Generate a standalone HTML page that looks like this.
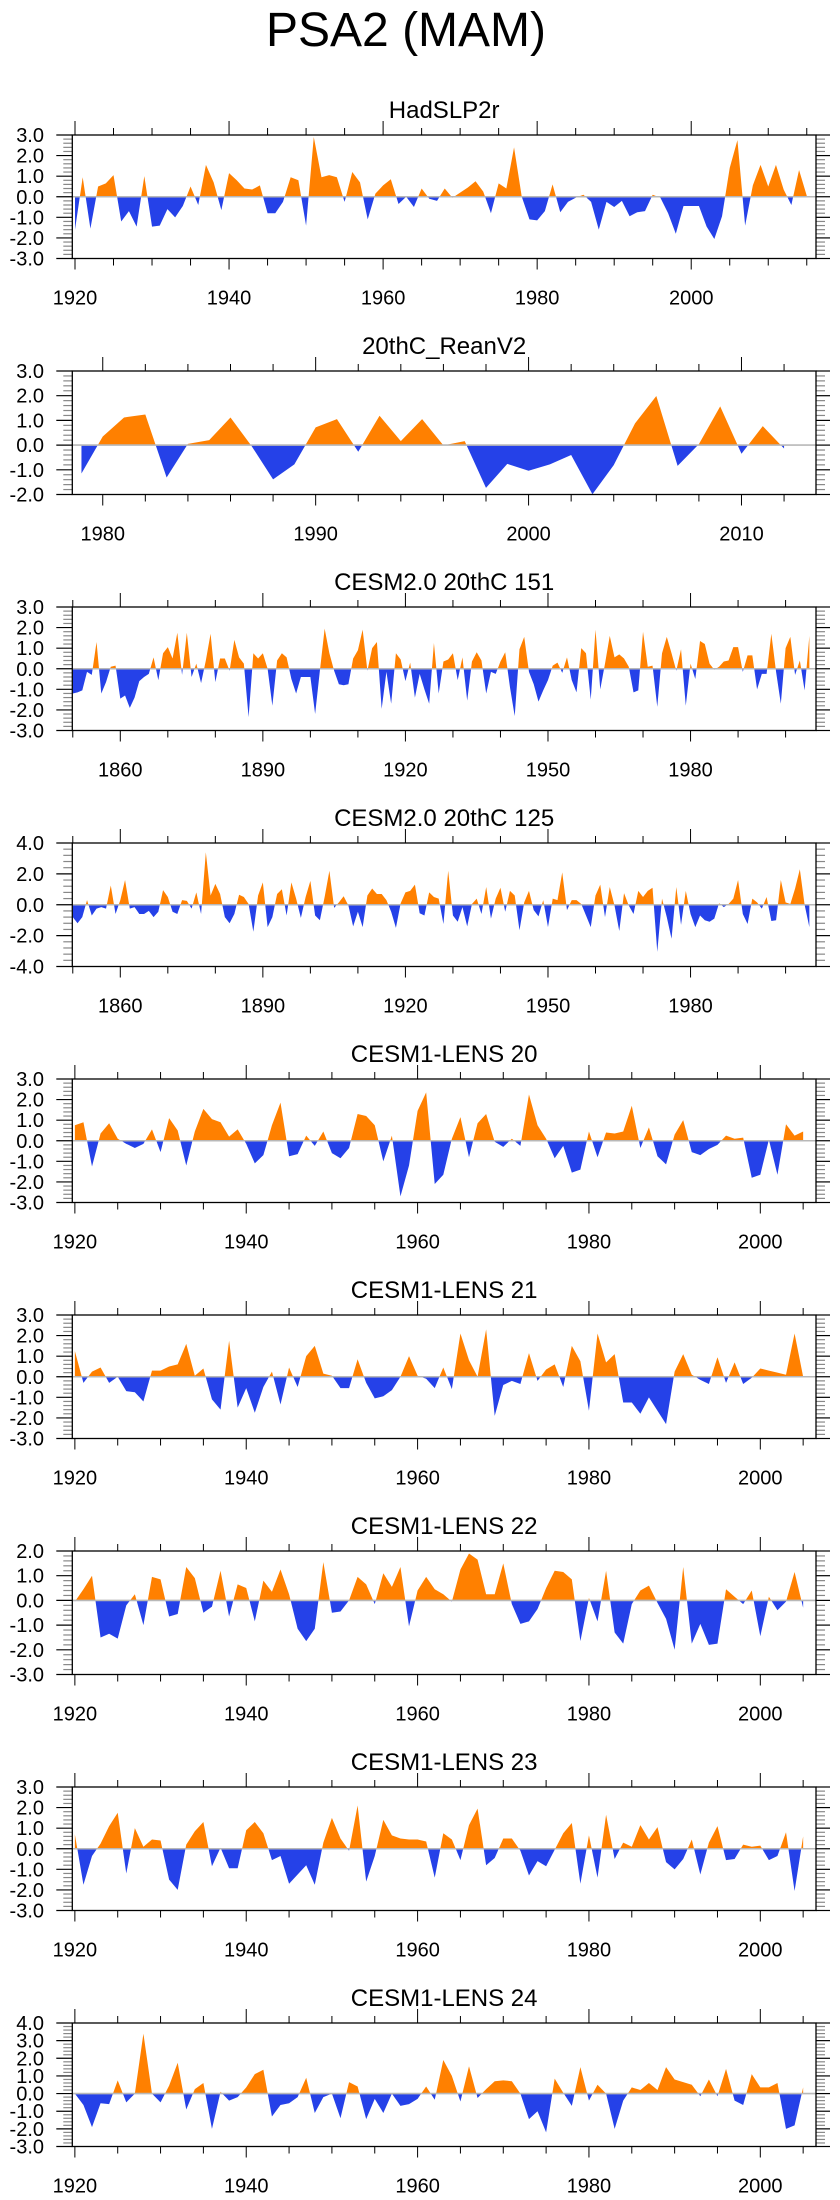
<!DOCTYPE html>
<html><head><meta charset="utf-8"><title>PSA2 (MAM)</title>
<style>
html,body{margin:0;padding:0;background:#fff;}
svg{display:block;}
text{font-family:"Liberation Sans",Arial,sans-serif;fill:#000;}
</style></head>
<body>
<svg id="fig" width="840" height="2200" viewBox="0 0 840 2200" xmlns="http://www.w3.org/2000/svg">
<text x="406" y="46" font-size="48" text-anchor="middle">PSA2 (MAM)</text>
</svg>
<script>
// ---- data arrays ----
const titles = ["HadSLP2r","20thC_ReanV2","CESM2.0 20thC 151","CESM2.0 20thC 125","CESM1-LENS 20","CESM1-LENS 21","CESM1-LENS 22","CESM1-LENS 23","CESM1-LENS 24"];
const startYears = [1920,1979,1850,1850,1920,1920,1920,1920,1920];
const xDomains = [[1919.65,2016.2],[1978.57,2013.5],[1849.9,2006.4],[1849.9,2006.4],[1919.7,2006.5],[1919.7,2006.5],[1919.7,2006.5],[1919.7,2006.5],[1919.7,2006.5]];
const yDomains = [[-3,3],[-2,3],[-3,3],[-4,4],[-3,3],[-3,3],[-3,2],[-3,3],[-3,4]];
const yTickStep = [1,1,1,2,1,1,1,1,1];
const xLabelTicks = [[1920,1940,1960,1980,2000],[1980,1990,2000,2010],[1860,1890,1920,1950,1980],[1860,1890,1920,1950,1980],[1920,1940,1960,1980,2000],[1920,1940,1960,1980,2000],[1920,1940,1960,1980,2000],[1920,1940,1960,1980,2000],[1920,1940,1960,1980,2000]];
const xMinorStep = [5,2,10,10,5,5,5,5,5];

const hadslp = [-1.6,0.95,-1.55,0.5,0.65,1.05,-1.2,-0.7,-1.45,1.0,-1.45,-1.4,-0.6,-1.0,-0.45,0.5,-0.4,1.55,0.7,-0.65,1.15,0.8,0.4,0.35,0.55,-0.8,-0.8,-0.25,0.95,0.8,-1.4,2.9,0.95,1.05,0.95,-0.25,1.2,0.7,-1.1,0.15,0.55,0.85,-0.35,0,-0.5,0.4,-0.1,-0.2,0.4,-0.05,0.2,0.45,0.75,0.25,-0.8,0.65,0.4,2.4,0,-1.1,-1.15,-0.7,0.6,-0.75,-0.25,-0.05,0.1,-0.25,-1.6,-0.25,-0.5,-0.2,-0.95,-0.75,-0.7,0.1,-0.05,-0.8,-1.8,-0.45,-0.45,-0.45,-1.45,-2.05,-0.95,1.4,2.75,-1.4,0.55,1.55,0.5,1.55,0.35,-0.4,1.3,0.05];
const reanV2 = [-1.15,0.35,1.12,1.24,-1.31,0.05,0.2,1.12,-0.05,-1.39,-0.78,0.72,1.05,-0.27,1.19,0.16,1.05,-0.01,0.16,-1.73,-0.76,-1.04,-0.78,-0.4,-1.99,-0.81,0.88,1.99,-0.84,0.04,1.57,-0.35,0.77,-0.14];
const cesm2_151 = [-1.2,-1.15,-1.05,-0.15,-0.3,1.3,-1.2,-0.65,0.1,0.15,-1.45,-1.3,-1.9,-1.4,-0.6,-0.4,-0.25,0.55,-0.55,0.75,1.05,0.5,1.75,-0.3,1.75,-0.4,0.25,-0.7,0.4,1.7,-0.65,0.5,0.5,-0.1,1.4,0.55,0.25,-2.35,0.75,0.5,0.75,0,-1.8,0.4,0.75,0.55,-0.5,-1.2,-0.4,-0.4,-0.4,-2.2,-0.1,1.95,0.75,-0.1,-0.75,-0.8,-0.75,0.5,0.9,1.9,-0.1,1.0,1.3,-1.95,-0.15,-1.7,0.75,0.45,-0.6,0.3,-1.4,-0.25,-1.0,-1.7,1.25,-1.2,0.35,0.45,0.75,-0.55,0.55,-1.55,0.35,0.8,0.4,-1.2,-0.15,-0.25,0.35,0.8,-0.9,-2.3,0.95,1.55,-0.15,-0.75,-1.6,-1.05,-0.55,0.15,0.3,-0.2,0.55,-0.55,-1.15,1.0,0.75,-1.5,1.9,-1.0,0.25,1.6,0.55,0.7,0.5,0.1,-1.15,-1.05,1.8,0.1,0.15,-1.85,0.75,1.55,0.75,-0.1,0.95,-1.8,0.25,-0.5,1.35,1.2,0.25,-0.05,0.1,0.35,0.4,1.05,1.05,-0.15,0.65,0.65,-1.0,-0.25,-0.25,1.7,-0.15,-1.7,1.0,1.55,-0.3,0.4,-1.05,1.6];
const cesm2_125 = [-0.8,-1.2,-0.8,0.3,-0.7,-0.25,-0.15,-0.25,1.25,-0.6,0.3,1.6,-0.25,-0.15,-0.6,-0.6,-0.4,-0.8,-0.45,0.95,0.5,-0.45,-0.6,0.3,0.25,-0.25,0.8,-0.6,3.4,0.6,1.35,0.7,-0.8,-1.2,-0.6,0.65,0.5,0.05,-1.75,0.6,1.45,-1.45,-0.8,0.7,1.0,-0.7,1.45,0.4,-0.85,0.5,1.55,-0.7,-1.0,0.5,2.2,-0.2,0.15,0.55,-0.05,-1.4,-0.45,-1.45,0.6,1.05,0.7,0.7,0.3,-0.45,-1.5,0.1,0.8,0.9,1.3,-0.55,-0.7,0.8,0.5,0.4,-1.25,2.2,-0.7,-1.1,-0.15,-1.4,0.05,0.4,-0.6,1.15,-0.9,0.4,1.1,-0.45,0.9,0.6,-1.65,0.15,0.9,-0.35,-0.75,0.3,-1.45,0.4,0.3,2.1,-0.35,0.3,0.3,0.05,-0.7,-1.45,0.6,1.3,-0.8,1.15,-0.05,-1.7,0.75,-0.05,-0.6,0.9,0.5,0.9,1.1,-3.05,0.4,-0.8,-2.2,1.15,-1.3,0.9,-0.6,-1.45,-0.7,-1.0,-1.1,-0.9,0.1,-0.15,0.05,0.4,1.6,-0.6,-1.25,0.4,0.15,-0.25,0.5,-1.05,-1.0,1.6,0.15,0.05,1.05,2.3,0,-1.45];
const lens20 = [0.75,0.9,-1.25,0.35,0.85,0.1,-0.15,-0.35,-0.15,0.55,-0.55,1.1,0.5,-1.2,0.45,1.55,1.05,0.9,0.2,0.55,-0.15,-1.1,-0.7,0.75,1.85,-0.75,-0.65,0.25,-0.25,0.45,-0.6,-0.85,-0.35,1.3,1.2,0.75,-1.0,0.25,-2.7,-1.2,1.45,2.35,-2.1,-1.65,0.1,1.15,-0.8,0.85,1.3,-0.05,-0.3,0.1,-0.25,2.25,0.75,0.1,-0.85,-0.25,-1.55,-1.4,0.45,-0.8,0.4,0.35,0.45,1.7,-0.35,0.65,-0.75,-1.15,0.3,1.0,-0.55,-0.7,-0.4,-0.2,0.25,0.1,0.15,-1.8,-1.65,0.05,-1.65,0.8,0.25,0.45];
const lens21 = [1.25,-0.3,0.25,0.45,-0.3,0,-0.7,-0.75,-1.2,0.3,0.3,0.5,0.6,1.6,0.05,0.4,-1.1,-1.6,1.75,-1.5,-0.55,-1.75,-0.5,0.25,-1.35,0.45,-0.5,1.0,1.5,0.15,0.05,-0.55,-0.55,0.85,-0.3,-1.05,-0.95,-0.65,0,1.0,0.05,-0.1,-0.55,0.45,-0.6,2.1,0.8,0,2.3,-1.9,-0.4,-0.2,-0.35,1.15,-0.2,0.35,0.6,-0.5,1.5,0.75,-1.65,2.1,0.7,1.1,-1.25,-1.25,-1.8,-1.0,-1.65,-2.3,0.25,1.1,0.1,-0.15,-0.35,0.95,-0.3,0.7,-0.35,-0.05,0.4,0.3,0.2,0.1,2.1,0];
const lens22 = [-0.05,0.45,1.0,-1.5,-1.35,-1.55,-0.2,0.25,-1.0,0.95,0.85,-0.65,-0.55,1.35,0.9,-0.5,-0.25,1.2,-0.65,0.65,0.5,-0.85,0.8,0.35,1.25,0.25,-1.15,-1.65,-1.15,1.55,-0.5,-0.45,0,0.95,0.65,-0.15,1.1,0.55,1.35,-1.05,0.4,0.95,0.45,0.25,-0.05,1.25,1.9,1.65,0.25,0.25,1.5,-0.15,-0.95,-0.85,-0.35,0.5,1.2,1.15,0.85,-1.65,0.1,-0.85,1.2,-1.3,-1.75,-0.15,0.4,0.6,-0.1,-0.75,-2.0,1.35,-1.75,-0.95,-1.8,-1.75,0.45,0.15,-0.15,0.4,-1.45,0.15,-0.4,-0.05,1.15,-0.3];
const lens23 = [0.7,-1.75,-0.35,0.25,1.1,1.75,-1.2,1.0,0.1,0.45,0.4,-1.5,-2.0,0.2,0.85,1.3,-0.85,0.05,-0.95,-0.95,0.9,1.3,0.75,-0.55,-0.35,-1.7,-1.25,-0.8,-1.75,0.3,1.5,0.5,-0.1,2.1,-1.6,-0.35,1.4,0.65,0.5,0.45,0.45,0.35,-1.4,0.75,0.45,-0.55,1.15,1.95,-0.8,-0.45,0.5,0.5,-0.1,-1.3,-0.6,-0.85,-0.05,0.75,1.25,-1.7,0.65,-1.4,1.65,-0.5,0.3,0.1,1.15,0.45,1.05,-0.65,-1.0,-0.5,0.45,-1.25,0.3,1.1,-0.55,-0.5,0.2,0.1,0.15,-0.55,-0.35,0.8,-2.05,0.6];
const lens24 = [0,-0.65,-1.9,-0.55,-0.6,0.75,-0.5,0,3.4,0,-0.5,0.45,1.75,-0.9,0.25,0.6,-2.0,0.1,-0.4,-0.2,0.35,1.1,1.35,-1.3,-0.65,-0.55,-0.2,0.9,-1.1,-0.2,0,-1.4,0.65,0.4,-1.45,-0.3,-1.1,0,-0.7,-0.6,-0.3,0.4,-0.35,1.9,1.0,-0.45,1.55,-0.25,0.25,0.7,0.75,0.7,0,-1.45,-1.0,-2.2,0.85,0.05,-0.7,1.5,-0.4,0.5,0,-2.0,-0.4,0.35,0.2,0.6,0.2,1.5,0.8,0.65,0.5,-0.15,0.8,-0.15,1.4,-0.4,-0.65,1.1,0.35,0.35,0.6,-2.0,-1.8,0.35];
const seriesList = [hadslp,reanV2,cesm2_151,cesm2_125,lens20,lens21,lens22,lens23,lens24];

// ---- layout ----
const NS = "http://www.w3.org/2000/svg";
const svg = document.getElementById("fig");
const BOX_L = 72.3, BOX_R = 816, BOX_H = 123.5, TOP0 = 135, GAP = 236;
function mk(tag, attrs, parent) {
  const e = document.createElementNS(NS, tag);
  for (const k in attrs) e.setAttribute(k, attrs[k]);
  (parent || svg).appendChild(e);
  return e;
}
function fmt(v){ return v.toFixed(1); }

seriesList.forEach((vals, p) => {
  const top = TOP0 + GAP * p, bot = top + BOX_H;
  const [x0, x1] = xDomains[p], [y0, y1] = yDomains[p];
  const xs = y => BOX_L + (y - x0) / (x1 - x0) * (BOX_R - BOX_L);
  const ys = v => bot - (v - y0) / (y1 - y0) * BOX_H;
  const g = mk("g", {});
  
  

  const t = mk("text", {x: (BOX_L + BOX_R) / 2, y: top - 17, "font-size": 24, "text-anchor": "middle"}, g);
  t.textContent = titles[p];
  
  

  // area fill
  const zy = ys(0);
  let pts = vals.map((v, i) => xs(startYears[p] + i).toFixed(2) + "," + ys(v).toFixed(2));
  const xa = xs(startYears[p]), xb = xs(startYears[p] + vals.length - 1);
  const poly = pts.join(" ") + " " + xb.toFixed(2) + "," + zy + " " + xa.toFixed(2) + "," + zy;
  const defs = mk("defs", {}, g);
  const cu = mk("clipPath", {id: "up" + p}, defs);
  mk("rect", {x: 0, y: top, width: 840, height: zy - top}, cu);
  const cd = mk("clipPath", {id: "dn" + p}, defs);
  mk("rect", {x: 0, y: zy, width: 840, height: bot - zy}, cd);
  const pu = mk("polygon", {points: poly, fill: "#ff8000", "clip-path": "url(#up" + p + ")"}, g);
  
  
  const pd = mk("polygon", {points: poly, fill: "#2541e8", "clip-path": "url(#dn" + p + ")"}, g);
  
  
  const zl = mk("line", {x1: BOX_L, x2: BOX_R, y1: zy, y2: zy, stroke: "#b8b8b8", "stroke-width": 1.6}, g);
  
  

  // y ticks
  const st = yTickStep[p], minor = st / 5;
  for (let v = y0; v <= y1 + 1e-6; v += minor) {
    const yy = ys(v);
    const isMaj = Math.abs(v / st - Math.round(v / st)) < 1e-6;
    mk("line", {x1: BOX_L - (isMaj ? 16 : 9), x2: BOX_L, y1: yy, y2: yy, stroke: isMaj ? "#000" : "#888", "stroke-width": 1.2}, g);
    mk("line", {x1: BOX_R, x2: BOX_R + (isMaj ? 14 : 9), y1: yy, y2: yy, stroke: isMaj ? "#000" : "#888", "stroke-width": 1.2}, g);
    if (isMaj) {
      const lt = mk("text", {x: 44, y: yy + 7, "font-size": 20, "text-anchor": "end"}, g);
      lt.textContent = fmt(Math.abs(v) < 1e-9 ? 0 : v);
      
      
    }
  }
  // x ticks
  const ms = xMinorStep[p];
  for (let yr = Math.ceil(x0 / ms) * ms; yr <= x1; yr += ms) {
    const xx = xs(yr);
    const isMaj = xLabelTicks[p].includes(yr);
    const L = isMaj ? 14 : 7;
    mk("line", {x1: xx, x2: xx, y1: top - L, y2: top, stroke: "#000", "stroke-width": 1}, g);
    mk("line", {x1: xx, x2: xx, y1: bot, y2: bot + (isMaj ? 11 : 7), stroke: "#000", "stroke-width": 1}, g);
  }
  xLabelTicks[p].forEach(yr => {
    const lt = mk("text", {x: xs(yr), y: bot + 46, "font-size": 20, "text-anchor": "middle"}, g);
    lt.textContent = yr;
    
    
  });
  // box
  const bx = mk("rect", {x: BOX_L, y: top, width: BOX_R - BOX_L, height: BOX_H, fill: "none", stroke: "#000", "stroke-width": 1.3}, g);
  
  
});
</script>
</body></html>
